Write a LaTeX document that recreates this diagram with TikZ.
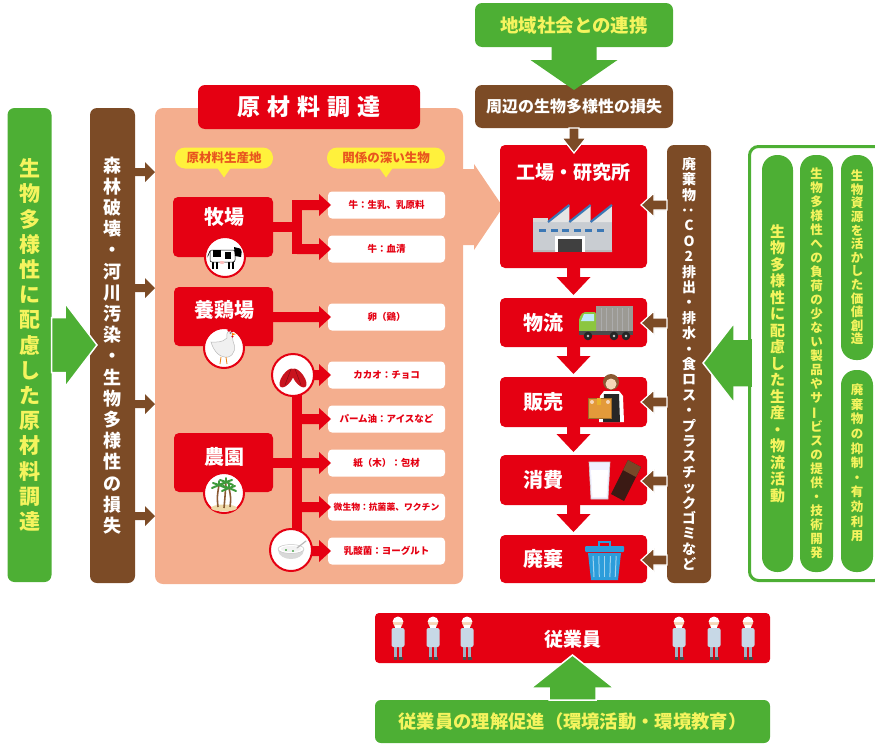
\documentclass[tikz,border=0pt]{standalone}
\usepackage{fontspec}
\setmainfont{Noto Sans CJK JP}
\usepackage{graphicx}
\usetikzlibrary{calc}

\definecolor{jred}{HTML}{E50012}
\definecolor{jgreen}{HTML}{4DAF34}
\definecolor{jbrown}{HTML}{7C4B26}
\definecolor{jpink}{HTML}{F4AE8E}
\definecolor{jyel}{HTML}{F5F45E}
\definecolor{cyel}{HTML}{FFF13C}
\definecolor{corange}{HTML}{E8561E}
\definecolor{skin}{HTML}{F6D6B8}
\definecolor{staffbody}{HTML}{C7D8E6}
\definecolor{staffleg}{HTML}{9FB3C3}
\definecolor{roofblue}{HTML}{3C78B5}
\definecolor{wallgray}{HTML}{C9CDD2}
\definecolor{cabgreen}{HTML}{8CC63F}
\definecolor{cargogray}{HTML}{9C9A94}
\definecolor{canblue}{HTML}{2C9DDB}
\definecolor{choco}{HTML}{3B1A14}
\definecolor{boxorange}{HTML}{E39A3A}
\definecolor{hairbrown}{HTML}{8A5A33}
\definecolor{cacaored}{HTML}{C8141E}
\definecolor{palmgreen}{HTML}{3D9A3A}
\definecolor{sand}{HTML}{EED9A8}

% one character per line for vertical labels
\makeatletter
\newcommand\vstack[1]{\@tfor\vch:=#1\do{\vch\par}}
\makeatother
\newcommand\fsz[2]{\fontsize{#1pt}{#2pt}\selectfont}
\newcommand\rot[1]{\rotatebox[origin=c]{90}{#1}}

% horizontal block arrow: tail, tip, shaft half width, head half width, head offset (signed), style
\newcommand\harrow[6]{%
  \path[#6] let \p1=#1, \p2=#2 in
    (\x1,{\y1+#3}) -- ({\x2+(#5)},{\y1+#3}) -- ({\x2+(#5)},{\y1+#4}) -- (\x2,\y1)
    -- ({\x2+(#5)},{\y1-#4}) -- ({\x2+(#5)},{\y1-#3}) -- (\x1,{\y1-#3}) -- cycle;}
% vertical block arrow, same arguments
\newcommand\varrow[6]{%
  \path[#6] let \p1=#1, \p2=#2 in
    ({\x1+#3},\y1) -- ({\x1+#3},{\y2+(#5)}) -- ({\x1+#4},{\y2+(#5)}) -- (\x1,\y2)
    -- ({\x1-#4},{\y2+(#5)}) -- ({\x1-#3},{\y2+(#5)}) -- ({\x1-#3},\y1) -- cycle;}

% a small staff figure
\newcommand\staffman[1]{%
  \fill[staffleg] ({#1-4},645) rectangle ({#1-0.6},658);
  \fill[staffleg] ({#1+0.6},645) rectangle ({#1+4},658);
  \fill[gray!60!black] ({#1-4.5},657) rectangle ({#1-0.6},660);
  \fill[gray!60!black] ({#1+0.6},657) rectangle ({#1+4.5},660);
  \fill[staffbody, rounded corners=2pt] ({#1-6.5},628) rectangle ({#1+6.5},647);
  \fill[skin] (#1,623) circle (5);
  \fill[white] ({#1-5.5},622) arc[start angle=180,end angle=360,radius=5.5] -- cycle;
  \fill[white] ({#1-3},624.5) rectangle ({#1+3},627.5);}

\begin{document}
\begin{tikzpicture}[x=1pt,y=-1pt,
  every node/.style={inner sep=0pt, outer sep=0pt},
  redbox/.style={rectangle, rounded corners=5pt, fill=jred},
  brownbox/.style={rectangle, rounded corners=7pt, fill=jbrown},
  greenbox/.style={rectangle, rounded corners=7pt, fill=jgreen},
  pill/.style={rectangle, rounded corners=15pt, fill=jgreen},
  whitebox/.style={rectangle, rounded corners=4pt, fill=white, minimum width=117pt,
    minimum height=27pt, text=jred, font={\fsz{9.5}{11}\bfseries}},
  callout/.style={rectangle, rounded corners=10pt, fill=cyel, minimum height=21pt,
    text=corange, font={\fsz{12.5}{14}\bfseries}},
  vtxt/.style={text width=26pt, align=center},
  ring/.style={circle, fill=white, draw=jred, line width=2pt, minimum size=40pt},
  redtxt/.style={text=white, font={\fsz{20}{22}\bfseries}},
  garrow/.style={fill=jgreen},
  garrowo/.style={fill=jgreen, draw=white, line width=1.5pt},
  barrow/.style={fill=jbrown},
  barrowo/.style={fill=jbrown, draw=white, line width=1.2pt},
  rarrow/.style={fill=jred},
  parrow/.style={fill=jpink}]

\useasboundingbox (0,0) rectangle (875,744);

% ---------- left: procurement ----------
\node[greenbox, minimum width=44pt, minimum height=474pt] (gL) at (29.5,345) {};
\node[vtxt, text=jyel, font={\fsz{21}{25.2}\bfseries}] (gLt) at (gL.center)
  {\vstack{生物多様性に配慮した原材料調達}};

\node[brownbox, minimum width=45pt, minimum height=475pt] (bL) at (112.5,345.5) {};
\node[vtxt, text=white, font={\fsz{18}{21.2}\bfseries}] (bLt) at (bL.center)
  {\vstack{森林破壊・河川汚染・生物多様性の損失}};

\harrow{(gL.east |- 0,345)}{([xshift=7pt]bL.west |- 0,345)}{27.5pt}{42pt}{(-32pt)}{garrowo}

\node[rectangle, rounded corners=8pt, fill=jpink, minimum width=308pt, minimum height=476pt] (pk) at (309,346) {};

\foreach \yy in {172,288,404,516}
  \harrow{(bL.east |- 0,\yy)}{(pk.west |- 0,\yy)}{4pt}{10pt}{(-10pt)}{barrow};

\node[redbox, rounded corners=7pt, minimum width=222pt, minimum height=44pt, text=white,
  font={\fsz{23}{26}\bfseries}] (title) at (309,107)
  {原\hspace{7pt}材\hspace{7pt}料\hspace{7pt}調\hspace{7pt}達};

\node[callout, minimum width=98pt] (c1) at (224,158) {原材料生産地};
\fill[cyel] ([xshift=-7pt,yshift=1pt]c1.south) -- ([yshift=-9pt]c1.south) -- ([xshift=7pt,yshift=1pt]c1.south) -- cycle;
\node[callout, minimum width=118pt] (c2) at (386,158) {関係の深い生物};
\fill[cyel] ([xshift=-7pt,yshift=1pt]c2.south) -- ([yshift=-9pt]c2.south) -- ([xshift=7pt,yshift=1pt]c2.south) -- cycle;

% production sites
\node[redbox, minimum width=100pt, minimum height=60pt] (f1) at (223,227) {};
\node[redtxt] (f1t) at (224,217) {牧場};
\node[redbox, minimum width=99pt, minimum height=59pt] (f2) at (223.5,316.5) {};
\node[redtxt] (f2t) at (224,310) {養鶏場};
\node[redbox, minimum width=99pt, minimum height=59pt] (f3) at (223.5,462.5) {};
\node[redtxt] (f3t) at (224,457) {農園};

% related organisms
\node[whitebox] (w1) at (386.5,205) {牛：生乳、乳原料};
\node[whitebox] (w2) at (386.5,249) {牛：血清};
\node[whitebox] (w3) at (386.5,317) {卵（鶏）};
\node[whitebox] (w4) at (386.5,375) {カカオ：チョコ};
\node[whitebox] (w5) at (386.5,419) {パーム油：アイスなど};
\node[whitebox] (w6) at (386.5,463) {紙（木）：包材};
\node[whitebox, font={\fsz{8.8}{10}\bfseries}] (w7) at (386.5,507) {微生物：抗菌薬、ワクチン};
\node[whitebox] (w8) at (386.5,551) {乳酸菌：ヨーグルト};

% red links
\fill[jred] (f1.east |- 0,222) rectangle (302,232);
\fill[jred] (292,200) rectangle (302,254);
\harrow{(297,205)}{([xshift=3pt]w1.west)}{5pt}{11pt}{(-12pt)}{rarrow}
\harrow{(297,249)}{([xshift=3pt]w2.west)}{5pt}{11pt}{(-12pt)}{rarrow}
\harrow{(f2.east |- 0,317)}{([xshift=3pt]w3.west)}{5pt}{11pt}{(-12pt)}{rarrow}
\fill[jred] (f3.east |- 0,458) rectangle (302,468);
\fill[jred] (292,375) rectangle (302,551);
\foreach \wb in {w4,w5,w6,w7,w8}
  \harrow{(297,0 |- \wb.west)}{([xshift=3pt]\wb.west)}{5pt}{11pt}{(-12pt)}{rarrow};

% icon rings
\node[ring] (f1i) at (225,257) {};
\node[ring] (f2i) at (224,348) {};
\node[ring] (f3i) at (224,493) {};
\node[ring, minimum size=42pt] (cac) at (293,375) {};
\node[ring, minimum size=42pt] (yog) at (291,550) {};

% cow
\begin{scope}
\clip (f1i.center) circle (17.5pt);
\draw[black, line width=1.4pt] (213,261)--(213,269) (217,261)--(217,269) (229,261)--(229,269) (233,261)--(233,269);
\fill[white, draw=black, line width=0.5pt, rounded corners=2pt] (210,250) rectangle (235,262);
\fill[black] (213,250) rectangle (221,257);
\fill[black] (225,252) rectangle (231,259);
\fill[black] (234,247) -- (242,249) -- (241,257) -- (235,256) -- cycle;
\draw[black, line width=0.6pt] (210,251) -- (207,258);
\fill[pink] (222,262.5) ellipse (2.5 and 1.5);
\end{scope}

% chicken
\fill[gray!12, draw=gray!55, line width=0.5pt] (211,342) .. controls (214,352) and (220,358) .. (228,357)
  .. controls (235,355) and (236,347) .. (233,341) .. controls (232,336) and (233,333) .. (231,331)
  .. controls (228,330) and (226,333) .. (227,338) .. controls (222,343) and (216,342) .. (211,342) -- cycle;
\fill[jred] (229,330) circle (1.8) (232,331) circle (1.5) (232.5,336.5) circle (1.2);
\fill[orange] (232,333) -- (236,334) -- (232,335.5) -- cycle;
\fill[black] (230.3,333) circle (0.6);
\draw[orange!70!brown, line width=0.8pt] (221,357) -- (220,364) (226,357) -- (227,364);

% palms
\fill[sand] (224,508) ellipse (13 and 3.5);
\draw[hairbrown, line width=1.6pt] (218,507) .. controls (217,497) .. (219,485)
  (224,508) .. controls (225,497) .. (226,482) (230,507) .. controls (231,498) .. (229,488);
\foreach \px/\py in {219/485,226/482,229/488}
  \foreach \dx/\dy in {-7/3,-6/-2,0/-4,6/-2,7/3}
    \draw[palmgreen, line width=2pt, line cap=round] (\px,\py) -- ++(\dx,\dy);

% cacao
\fill[cacaored, rotate around={-35:(287,378)}] (287,378) ellipse (5 and 11);
\fill[cacaored, rotate around={35:(299,378)}] (299,378) ellipse (5 and 11);
\draw[cacaored!60!black, line width=0.4pt] (285,385) -- (291,369) (301,385) -- (295,369);

% yogurt
\fill[gray!30] (278,550) .. controls (279,562) and (303,562) .. (304,550) -- cycle;
\fill[white, draw=gray!45, line width=0.5pt] (291,549) ellipse (13 and 4.5);
\fill[gray!10] (291,549) ellipse (10 and 3);
\draw[gray!55, line width=1.2pt, line cap=round] (297,548) -- (306,541);
\fill[green!50!black] (286,550) circle (0.8) (293,551) circle (0.8);

% pink link to the factory
\harrow{(pk.east |- 0,207)}{(503,207)}{38pt}{43pt}{(-29pt)}{parrow}

% ---------- centre: value chain ----------
\node[greenbox, minimum width=198pt, minimum height=44pt, text=jyel,
  font={\fsz{18.5}{20}\bfseries}] (gT) at (574,25) {地域社会との連携};
\node[brownbox, minimum width=198pt, minimum height=43pt, text=white,
  font={\fsz{16}{18}\bfseries}] (bT) at (574,106.5) {周辺の生物多様性の損失};
\varrow{(gT.south)}{([yshift=-5pt]bT.north)}{22.5pt}{43.5pt}{(30pt)}{garrow}

\node[redbox, minimum width=147pt, minimum height=123pt] (fac) at (573.5,206.5) {};
\node[redtxt, font={\fsz{19}{21}\bfseries}] (facT) at (573.5,172) {工場・研究所};
\node[redbox, minimum width=147pt, minimum height=49pt] (lg) at (573.5,322.5) {};
\node[redtxt] (lgT) at (543,322.5) {物流};
\node[redbox, minimum width=147pt, minimum height=50pt] (sl) at (573.5,402) {};
\node[redtxt] (slT) at (543,402) {販売};
\node[redbox, minimum width=147pt, minimum height=50pt] (cs) at (573.5,480) {};
\node[redtxt] (csT) at (543,480) {消費};
\node[redbox, minimum width=147pt, minimum height=48pt] (ds) at (573.5,559) {};
\node[redtxt] (dsT) at (543,559) {廃棄};

\varrow{(bT.south)}{([yshift=-8pt]fac.north)}{5pt}{12pt}{(15pt)}{barrowo}
\varrow{(fac.south)}{([yshift=3pt]lg.north)}{6.5pt}{17pt}{(18pt)}{rarrow}
\varrow{(lg.south)}{([yshift=3pt]sl.north)}{6.5pt}{17pt}{(18pt)}{rarrow}
\varrow{(sl.south)}{([yshift=3pt]cs.north)}{6.5pt}{17pt}{(18pt)}{rarrow}
\varrow{(cs.south)}{([yshift=3pt]ds.north)}{6.5pt}{17pt}{(18pt)}{rarrow}

% factory icon
\fill[wallgray] (533,221) rectangle (612,252);
\fill[white!70!gray] (533,218) rectangle (548,222);
\foreach \k in {0,1,2} {
  \fill[white!80!gray] (548+21.3*\k,222) -- (569.3+21.3*\k,205) -- (569.3+21.3*\k,222) -- cycle;
  \draw[roofblue, line width=2.2pt] (548+21.3*\k,222) -- (569.3+21.3*\k,205);
}
\foreach \k in {0,...,5} \fill[roofblue] (539+11.5*\k,229) rectangle ++(7,2.5);
\fill[white] (555,236) rectangle (585,252);
\fill[black!75] (558,239) rectangle (582,252);
\fill[gray!55] (533,250) rectangle (555,252) (585,250) rectangle (612,252);

% truck icon
\fill[cargogray] (596,306) rectangle (633,333);
\foreach \k in {1,...,6} \draw[gray!65, line width=0.5pt] (596+5.3*\k,308) -- (596+5.3*\k,331);
\fill[cabgreen, rounded corners=2pt] (579,333) -- (579,318) -- (583,312) -- (596,312) -- (596,333) -- cycle;
\fill[cyan!25] (584,314) -- (594,314) -- (594,321) -- (581,321) -- cycle;
\fill[gray!60!black] (579,331) rectangle (633,335);
\foreach \xx in {588,614,626} { \fill[black!85] (\xx,336) circle (4.3); \fill[gray!40] (\xx,336) circle (1.4); }

% shop clerk icon
\fill[hairbrown] (611,382) circle (8);
\fill[white] (600,396) -- (604,391) -- (619,391) -- (623,396) -- (624,422) -- (599,422) -- cycle;
\fill[black!85] (604,394) -- (619,394) -- (620,422) -- (603,422) -- cycle;
\fill[skin] (611,384) circle (5.5);
\fill[boxorange, draw=boxorange!70!black, line width=0.5pt] (588,398) rectangle (611,418);
\fill[boxorange!75!yellow] (597,398) rectangle (601,405);
\fill[skin] (592,402) circle (2) (608,402) circle (2);

% milk and chocolate icon
\fill[blue!6, draw=gray!40, line width=0.6pt] (589,462) -- (610,462) -- (608,499) -- (591,499) -- cycle;
\fill[white] (591,470) -- (608,470) -- (606.5,497) -- (592.5,497) -- cycle;
\fill[choco] (611,494) -- (628,460) -- (641,467) -- (624,501) -- cycle;
\fill[choco!55!brown] (628,460) -- (641,467) -- (636,477) -- (623,470) -- cycle;

% waste bin icon
\draw[canblue, line width=2pt] (599,547) -- (599,542) -- (610,542) -- (610,547);
\fill[canblue, rounded corners=1pt] (585,546) rectangle (624,552);
\fill[canblue] (588,553) -- (621,553) -- (618,580) -- (591,580) -- cycle;
\foreach \k in {0,...,4} \draw[white!55!canblue, line width=1pt] (593+5.8*\k,556) -- (594+5.3*\k,577);

% waste column
\node[brownbox, minimum width=44pt, minimum height=438pt] (bR) at (689,364) {};
\node[vtxt, text=white, font={\fsz{14}{15.4}\bfseries}] (bRt) at (bR.center)
  {\vstack{廃棄物{\rot{：}}CO2排出・排水・食ロス・プラスチックゴミなど}};
\foreach \bx/\yy in {fac/205,lg/323,sl/402,cs/481,ds/560}
  \harrow{(bR.west |- 0,\yy)}{([xshift=-6pt]\bx.east |- 0,\yy)}{5pt}{12pt}{(13pt)}{barrowo};

% ---------- right: activities ----------
\begin{scope}
\clip (0,0) rectangle (875,744);
\harrow{(751,363)}{([xshift=-8pt]bR.east |- 0,363)}{24pt}{40pt}{(31pt)}{garrowo}
\node[rectangle, rounded corners=9pt, draw=jgreen, line width=3pt, minimum width=134pt,
  minimum height=434pt] (frame) at (816.5,363.5) {};
\end{scope}
\fill[jgreen] (748,339) rectangle (752,387);

\node[pill, minimum width=31pt, minimum height=417pt] (p1) at (777.5,363.5) {};
\node[vtxt, text=jyel, font={\fsz{15}{16.5}\bfseries}] (p1t) at (p1.center)
  {\vstack{生物多様性に配慮した生産・物流活動}};
\node[pill, minimum width=33pt, minimum height=417pt] (p2) at (816.5,363.5) {};
\node[vtxt, text=jyel, font={\fsz{12.5}{14}\bfseries}] (p2t) at (p2.center)
  {\vstack{生物多様性への負荷の少ない製品やサ{\rot{ー}}ビスの提供・技術開発}};
\node[pill, minimum width=32pt, minimum height=205pt] (p3) at (857,257.5) {};
\node[vtxt, text=jyel, font={\fsz{12.5}{13.6}\bfseries}] (p3t) at (p3.center)
  {\vstack{生物資源を活かした価値創造}};
\node[pill, minimum width=32pt, minimum height=202pt] (p4) at (857,471) {};
\node[vtxt, text=jyel, font={\fsz{12.5}{14.6}\bfseries}] (p4t) at (857,463)
  {\vstack{廃棄物の抑制・有効利用}};

% ---------- bottom: employees ----------
\node[redbox, rounded corners=4pt, minimum width=395pt, minimum height=50pt] (stf) at (572.5,638) {};
\node[redtxt, font={\fsz{19}{21}\bfseries}] (stfT) at (573,639) {従業員};
\foreach \sx in {398,433,467,679,714,748} { \staffman{\sx} }
\node[greenbox, rounded corners=6pt, minimum width=395pt, minimum height=43pt, text=jyel,
  font={\fsz{18.3}{20}\bfseries}] (gB) at (572.5,721.5) {従業員の理解促進（環境活動・環境教育）};
\varrow{(gB.north)}{([yshift=8pt]stf.south)}{23.5pt}{41.5pt}{(-33pt)}{garrowo}

\end{tikzpicture}
\end{document}
